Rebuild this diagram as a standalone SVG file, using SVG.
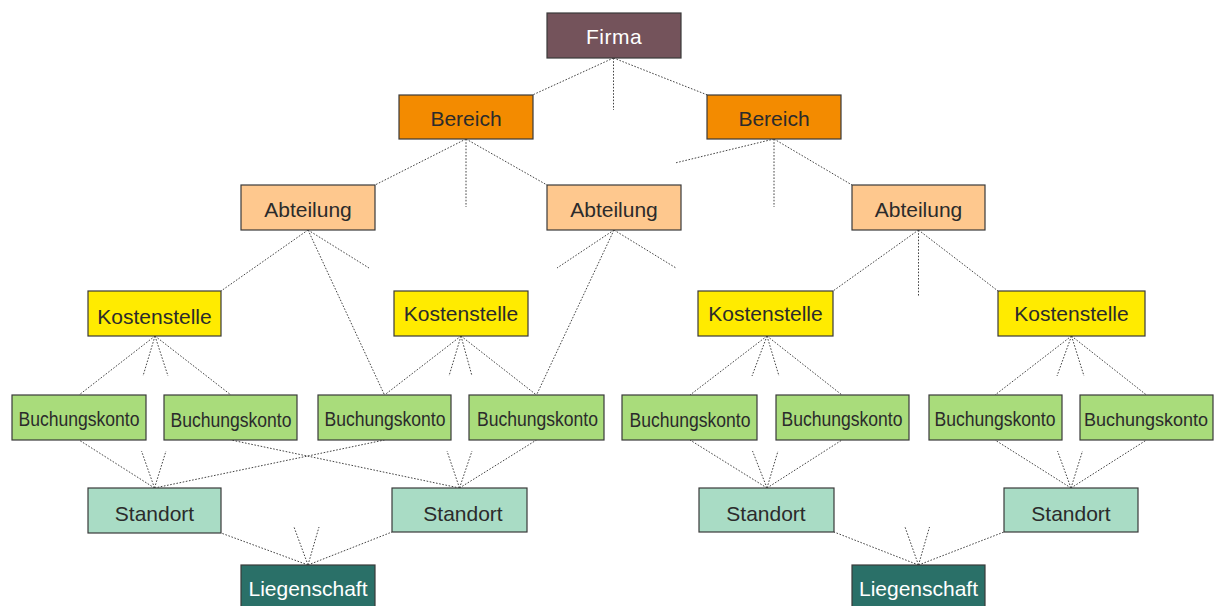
<svg xmlns="http://www.w3.org/2000/svg" width="1215" height="606" viewBox="0 0 1215 606">
<style>
.n rect{stroke:#3a3a3a;stroke-width:1.2}
.n text{font-family:"Liberation Sans",Arial,sans-serif;font-size:21px;text-anchor:middle;fill:#2b2b2b}
.bk text{font-size:20px}
.firma rect{fill:#74535b}
.firma text{fill:#ffffff;letter-spacing:0.5px}
.ber rect{fill:#f38b00}
.abt rect{fill:#fec88e}
.kst rect{fill:#ffeb00}
.bk rect{fill:#a9dc7b}
.std rect{fill:#a9dcc5}
.lg rect{fill:#2a7068}
.lg text{fill:#ffffff}
#connectors path{fill:none;stroke:#444;stroke-width:1;stroke-dasharray:1.6 1.6}
</style>
<rect width="1215" height="606" fill="#ffffff"/>
<g id="connectors">
<path d="M613.5,58 L532.5,95 M613.5,58 V110 M613.5,58 L707.5,95"/>
<path d="M466,139 L375,185 M466,139 V207 M466,139 L547,185"/>
<path d="M774,139 L675,163 M774,139 V207 M774,139 L852,185"/>
<path d="M308,230 L221,291 M308,230 L369,268 M308,230 L384.5,395"/>
<path d="M614,230 L557,268 M614,230 L676,268 M614,230 L536.5,395"/>
<path d="M918.5,230 L833,291 M918.5,230 V297 M918.5,230 L998,291"/>
<path d="M155,336 L79,395 M155,336 L143,376 M155,336 L168,376 M155,336 L231,395"/>
<path d="M461,336 L384.5,395 M461,336 L449,376 M461,336 L472,376 M461,336 L536.5,395"/>
<path d="M767,336 L690,395 M767,336 L752,376 M767,336 L779,376 M767,336 L842,395"/>
<path d="M1071.5,336 L995,395 M1071.5,336 L1057,376 M1071.5,336 L1084,376 M1071.5,336 L1146.5,395"/>
<path d="M154.5,488 L79,440 M154.5,488 L141.5,451 M154.5,488 L166,451 M154.5,488 L384.5,440"/>
<path d="M459.5,488 L231,440 M459.5,488 L447,451 M459.5,488 L472,451 M459.5,488 L536.5,440"/>
<path d="M767,488 L690,440 M767,488 L752.5,451 M767,488 L778,451 M767,488 L842,440"/>
<path d="M1071,488 L995,440 M1071,488 L1057.5,451 M1071,488 L1082.5,451 M1071,488 L1146.5,440"/>
<path d="M308,565 L221,533 M308,565 L392,532 M308,565 L294,527 M308,565 L319,527"/>
<path d="M918.5,565 L834,532 M918.5,565 L1004,532 M918.5,565 L905,527 M918.5,565 L929.5,527"/>
</g>
<g id="firma" class="n firma"><rect x="547" y="13" width="134" height="45"/><text x="614" y="44">Firma</text></g>
<g id="bereich1" class="n ber"><rect x="399" y="95" width="134" height="44"/><text x="466" y="126">Bereich</text></g>
<g id="bereich2" class="n ber"><rect x="707" y="95" width="134" height="44"/><text x="774" y="126">Bereich</text></g>
<g id="abteilung1" class="n abt"><rect x="241" y="185" width="134" height="45"/><text x="308" y="217">Abteilung</text></g>
<g id="abteilung2" class="n abt"><rect x="547" y="185" width="134" height="45"/><text x="614" y="217">Abteilung</text></g>
<g id="abteilung3" class="n abt"><rect x="852" y="185" width="133" height="45"/><text x="918.5" y="217">Abteilung</text></g>
<g id="kostenstelle1" class="n kst"><rect x="88" y="291" width="133" height="45"/><text x="154.5" y="324">Kostenstelle</text></g>
<g id="kostenstelle2" class="n kst"><rect x="394" y="291" width="134" height="45"/><text x="461" y="321">Kostenstelle</text></g>
<g id="kostenstelle3" class="n kst"><rect x="698" y="291" width="135" height="45"/><text x="765.5" y="321">Kostenstelle</text></g>
<g id="kostenstelle4" class="n kst"><rect x="998" y="291" width="147" height="45"/><text x="1071.5" y="321">Kostenstelle</text></g>
<g id="buchungskonto1" class="n bk"><rect x="12" y="395" width="134" height="45"/><text x="79" y="426" textLength="121" lengthAdjust="spacingAndGlyphs">Buchungskonto</text></g>
<g id="buchungskonto2" class="n bk"><rect x="164" y="395" width="133" height="45"/><text x="231" y="427" textLength="121" lengthAdjust="spacingAndGlyphs">Buchungskonto</text></g>
<g id="buchungskonto3" class="n bk"><rect x="318" y="395" width="133" height="45"/><text x="385" y="426" textLength="121" lengthAdjust="spacingAndGlyphs">Buchungskonto</text></g>
<g id="buchungskonto4" class="n bk"><rect x="469" y="395" width="135" height="45"/><text x="537.5" y="426" textLength="121" lengthAdjust="spacingAndGlyphs">Buchungskonto</text></g>
<g id="buchungskonto5" class="n bk"><rect x="622" y="395" width="135" height="45"/><text x="690" y="427" textLength="121" lengthAdjust="spacingAndGlyphs">Buchungskonto</text></g>
<g id="buchungskonto6" class="n bk"><rect x="776" y="395" width="133" height="45"/><text x="842" y="426" textLength="121" lengthAdjust="spacingAndGlyphs">Buchungskonto</text></g>
<g id="buchungskonto7" class="n bk"><rect x="929" y="395" width="133" height="45"/><text x="995" y="426" textLength="121" lengthAdjust="spacingAndGlyphs">Buchungskonto</text></g>
<g id="buchungskonto8" class="n bk"><rect x="1080" y="395" width="133" height="45"/><text x="1146" y="426" style="font-size:18px">Buchungskonto</text></g>
<g id="standort1" class="n std"><rect x="88" y="488" width="133" height="45"/><text x="154.5" y="521">Standort</text></g>
<g id="standort2" class="n std"><rect x="392" y="488" width="135" height="44"/><text x="463" y="521">Standort</text></g>
<g id="standort3" class="n std"><rect x="699" y="488" width="135" height="44"/><text x="766" y="521">Standort</text></g>
<g id="standort4" class="n std"><rect x="1004" y="488" width="134" height="44"/><text x="1071" y="521">Standort</text></g>
<g id="liegenschaft1" class="n lg"><rect x="241" y="565" width="134" height="43"/><text x="308" y="596">Liegenschaft</text></g>
<g id="liegenschaft2" class="n lg"><rect x="852" y="565" width="133" height="43"/><text x="918.5" y="596">Liegenschaft</text></g>
</svg>
